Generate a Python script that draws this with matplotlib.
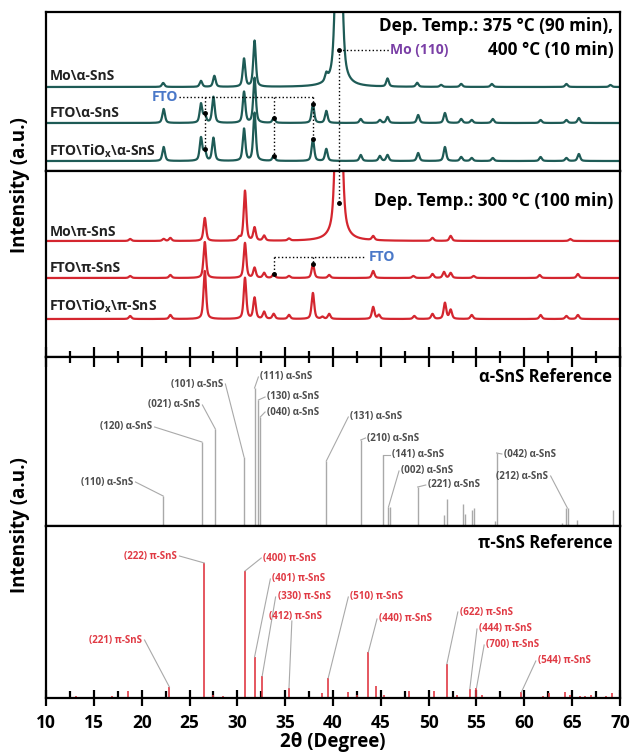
import numpy as np
import matplotlib
matplotlib.use('Agg')
import matplotlib.pyplot as plt

plt.rcParams['font.family'] = ['Open Sans', 'DejaVu Sans']
plt.rcParams['font.weight'] = 'bold'
plt.rcParams['axes.labelweight'] = 'bold'
plt.rcParams['mathtext.fontset'] = 'custom'
plt.rcParams['mathtext.bf'] = 'Open Sans:bold'
plt.rcParams['mathtext.rm'] = 'Open Sans:bold'

# ---- measured patterns (peak position 2theta, height in a.u. above baseline) ----
# alpha-SnS films (top panel)
mo_a_pos = [22.25, 26.2, 27.6, 30.7, 31.8, 39.3, 40.6, 45.7, 48.8, 51.3, 53.4, 56.6, 64.4, 69.0]
mo_a_h = [4, 6, 11, 28, 46, 7, 300, 8, 4, 2, 3, 3, 3, 2]
fto_a_pos = [22.3, 26.2, 26.6, 27.5, 30.7, 31.8, 33.8, 37.9, 39.3, 42.9, 44.9, 45.7, 48.9, 51.7,
             53.4, 54.5, 56.7, 61.7, 64.4, 65.7]
fto_a_h = [14, 19, 8, 26, 31, 45, 5, 19, 12, 4, 3, 6, 8, 10, 4, 3, 4, 3, 3, 5]
tio_a_pos = [22.3, 26.2, 26.6, 27.5, 30.7, 31.8, 33.8, 37.9, 39.3, 42.9, 44.9, 45.7, 48.9, 51.7,
             53.4, 54.5, 56.7, 61.7, 64.4, 65.7]
tio_a_h = [14, 23, 10, 23, 32, 48, 5, 22, 12, 6, 5, 6, 8, 14, 4, 3, 3, 4, 3, 7]
base_a = [84, 48, 10]

# pi-SnS films (middle panel)
mo_p_pos = [18.8, 22.3, 23.0, 26.6, 30.2, 30.8, 31.8, 32.8, 35.4, 40.6, 44.2, 50.4, 52.3, 64.8]
mo_p_h = [2, 2, 3, 23, 3, 50, 13, 5, 2, 300, 4, 3, 5, 2]
fto_p_pos = [18.8, 23.0, 26.6, 30.8, 31.8, 32.8, 33.8, 35.4, 37.9, 39.6, 44.2, 48.4, 50.4, 51.6,
             52.3, 54.7, 61.6, 65.6]
fto_p_h = [2, 3, 36, 35, 10, 5, 4, 2, 14, 3, 7, 2, 4, 6, 5, 2, 3, 4]
tio_p_pos = [18.8, 23.0, 26.6, 30.8, 31.8, 32.8, 33.8, 35.4, 37.9, 38.9, 39.6, 44.2, 44.8, 48.5,
             50.4, 51.7, 52.3, 54.5, 61.7, 64.4, 65.6]
tio_p_h = [3, 4, 48, 41, 21, 7, 5, 4, 26, 2, 5, 12, 4, 3, 5, 16, 9, 4, 4, 3, 4]
base_p = [116, 79, 38]

# alpha-SnS reference lines
ref_a_pos = [22.25, 26.3, 27.7, 30.7, 31.8, 32.2, 32.4, 39.3, 42.9, 45.2, 45.8, 46.0, 48.85,
             51.6, 51.9, 53.6, 53.8, 54.5, 54.7, 56.9, 57.1, 63.9, 64.4, 64.6, 65.5, 69.3]
ref_a_h = [30, 84, 97, 69, 138, 126, 109, 65, 86, 71, 19, 19, 39,
           11, 27, 22, 12, 16, 18, 5, 73, 3, 18, 18, 6, 16]
# (hkl) labels: text, peak, label x, label y
ref_a_lab = ['(110)', '(120)', '(021)', '(101)', '(111)', '(130)', '(040)', '(131)', '(210)',
             '(141)', '(002)', '(221)', '(042)', '(212)']
ref_a_lpk = [22.25, 26.3, 27.7, 30.7, 31.8, 32.2, 32.4, 39.3, 42.9, 45.2, 45.8, 48.85, 57.1, 64.5]
ref_a_lx = [19.1, 21.1, 26.1, 28.5, 32.4, 33.1, 33.1, 41.8, 43.6, 46.2, 47.1, 49.9, 57.85, 62.5]
ref_a_ly = [44, 99, 121, 142, 149, 129, 114, 109, 88, 71, 55, 41, 72, 50]

# pi-SnS reference lines
ref_p_pos = [13.1, 16.9, 18.6, 22.9, 26.55, 27.5, 28.5, 30.8, 31.8, 32.6, 35.4, 38.9, 39.5,
             41.6, 42.5, 43.7, 44.5, 45.3, 47.9, 50.6, 51.9, 53.0, 54.3, 55.0, 55.6, 59.7,
             61.9, 62.6, 64.3, 64.8, 65.8, 66.3, 67.0, 68.5, 69.2]
ref_p_h = [2, 2, 7, 11, 135, 3, 2, 127, 41, 22, 10, 5, 20,
           6, 3, 46, 12, 3, 7, 7, 34, 3, 9, 10, 3, 6,
           2, 5, 6, 3, 2, 2, 3, 2, 5]
ref_p_lab = ['(221)', '(222)', '(400)', '(401)', '(330)', '(412)', '(510)', '(440)', '(622)',
             '(444)', '(700)', '(544)']
ref_p_lpk = [22.9, 26.55, 30.8, 31.8, 32.6, 35.4, 39.5, 43.7, 51.9, 54.3, 55.0, 59.7]
ref_p_lx = [20.05, 23.7, 32.7, 33.65, 34.2, 33.35, 41.8, 44.8, 53.25, 55.25, 56.0, 61.4]
ref_p_ly = [58, 142, 140, 119, 101, 82, 101, 79, 86, 69, 53, 37]

teal = '#1e5b56'
red = '#d4262f'
tt = np.linspace(10, 70, 4000)


def profile(pos, hts):
    y = np.zeros_like(tt)
    for p, h in zip(pos, hts):
        w = 0.6 if h > 100 else 0.32
        d = (tt - p) / w
        y += h * (0.45 * np.exp(-4 * np.log(2) * d ** 2) + 0.55 / (1 + 4 * d ** 2))
    return y


def at(pos, hts, base, x):
    return base + np.interp(x, tt, profile(pos, hts))


fig = plt.figure(figsize=(6.32, 7.53), dpi=100)
L, W = 46 / 632, 574 / 632
ax1 = fig.add_axes([L, 1 - 171 / 753, W, 159 / 753])
ax2 = fig.add_axes([L, 1 - 357 / 753, W, 186 / 753], sharex=ax1)
ax3 = fig.add_axes([L, 1 - 526 / 753, W, 169 / 753], sharex=ax1)
ax4 = fig.add_axes([L, 1 - 698 / 753, W, 172 / 753], sharex=ax1)
ax1.set_ylim(0, 159)
ax2.set_ylim(0, 186)
ax3.set_ylim(0, 169)
ax4.set_ylim(0, 172)
ax1.set_xlim(10, 70)

for ax in (ax1, ax2, ax3, ax4):
    ax.set_yticks([])
    for s in ax.spines.values():
        s.set_linewidth(1.6)
    ax.tick_params(axis='x', which='both', bottom=False, top=False, labelbottom=False)
    ax.set_xticks(np.arange(10, 71, 5))
    ax.set_xticks(np.arange(12.5, 70, 5), minor=True)

ax2.tick_params(axis='x', which='both', bottom=True, direction='in', width=1.6)
ax2.tick_params(axis='x', which='major', length=7)
ax2.tick_params(axis='x', which='minor', length=4)
ax3.tick_params(axis='x', which='both', top=True, direction='in', width=1.6)
ax3.tick_params(axis='x', which='major', length=7)
ax3.tick_params(axis='x', which='minor', length=4)
ax4.tick_params(axis='x', which='major', bottom=True, direction='inout', length=11, width=1.6,
                labelbottom=True, labelsize=12.5, pad=6)
ax4.tick_params(axis='x', which='minor', bottom=True, direction='in', length=5, width=1.6)
for lbl in ax4.get_xticklabels():
    lbl.set_fontweight('bold')

# ---- alpha-SnS films ----
a_curves = [(mo_a_pos, mo_a_h), (fto_a_pos, fto_a_h), (tio_a_pos, tio_a_h)]
for (pos, hts), b in zip(a_curves, base_a):
    ax1.plot(tt, b + profile(pos, hts), color=teal, lw=1.6)
a_names = ['Mo\\α-SnS', 'FTO\\α-SnS', r'FTO\TiO$_\mathbf{x}$\α-SnS']
for name, yy in zip(a_names, [95, 58, 20]):
    ax1.text(10.35, yy, name, fontsize=10, va='center', ha='left', color='#222222')

ax1.text(69.3, 145, 'Dep. Temp.: 375 °C (90 min),', fontsize=12.3, ha='right', va='center')
ax1.text(69.3, 121, '400 °C (10 min)', fontsize=12.3, ha='right', va='center')
ax1.text(46.0, 121, 'Mo (110)', fontsize=10, color='#7a3fa6', ha='left', va='center')
ax1.plot([40.6, 45.9], [121, 121], 'k:', lw=1)
ax1.plot([40.6, 40.6], [121, 0], 'k:', lw=1)
ax1.plot([40.6], [121], 'ko', ms=2.5)

ax1.text(23.8, 74, 'FTO', fontsize=10, color='#4a78c8', ha='right', va='center')
ax1.plot([23.9, 37.9], [74, 74], 'k:', lw=1)
for xf in [26.6, 33.8, 37.9]:
    y_bot = at(tio_a_pos, tio_a_h, base_a[2], xf)
    y_mid = at(fto_a_pos, fto_a_h, base_a[1], xf)
    ax1.plot([xf, xf], [74, y_bot], 'k:', lw=1)
    ax1.plot([xf, xf], [y_mid, y_bot], 'ko', ms=2.5)

# ---- pi-SnS films ----
p_curves = [(mo_p_pos, mo_p_h), (fto_p_pos, fto_p_h), (tio_p_pos, tio_p_h)]
for (pos, hts), b in zip(p_curves, base_p):
    ax2.plot(tt, b + profile(pos, hts), color=red, lw=1.6)
p_names = ['Mo\\π-SnS', 'FTO\\π-SnS', r'FTO\TiO$_\mathbf{x}$\π-SnS']
for name, yy in zip(p_names, [125, 89, 51]):
    ax2.text(10.35, yy, name, fontsize=10, va='center', ha='left', color='#222222')

ax2.text(69.3, 156, 'Dep. Temp.: 300 °C (100 min)', fontsize=12.3, ha='right', va='center')
ax2.plot([40.6, 40.6], [186, 154], 'k:', lw=1)
ax2.plot([40.6], [154], 'ko', ms=2.5)
ax2.text(43.7, 100, 'FTO', fontsize=10, color='#4a78c8', ha='left', va='center')
ax2.plot([33.8, 43.3], [100, 100], 'k:', lw=1)
for xf in [33.8, 37.9]:
    y_c = at(fto_p_pos, fto_p_h, base_p[1], xf)
    ax2.plot([xf, xf], [100, y_c], 'k:', lw=1)
    ax2.plot([xf], [y_c], 'ko', ms=2.5)

# ---- alpha-SnS reference ----
ax3.vlines(ref_a_pos, 0, ref_a_h, color='#a9a9a9', lw=1)
for lab, pk, lx, ly in zip(ref_a_lab, ref_a_lpk, ref_a_lx, ref_a_ly):
    ph = ref_a_h[ref_a_pos.index(pk)] if pk in ref_a_pos else 18
    if lx < pk:
        ax3.text(lx, ly, lab + ' α-SnS', fontsize=7, color='#4d4d4d', ha='right', va='center')
        ax3.plot([lx + 0.25, pk], [ly, ph], color='#a9a9a9', lw=0.8)
    elif lab == '(212)':
        ax3.text(lx, ly, lab + ' α-SnS', fontsize=7, color='#4d4d4d', ha='left', va='center')
        ax3.plot([64.9, pk], [ly - 5, ph], color='#a9a9a9', lw=0.8)
    else:
        ax3.text(lx, ly, lab + ' α-SnS', fontsize=7, color='#4d4d4d', ha='left', va='center')
        ax3.plot([lx - 0.2, pk], [ly, ph], color='#a9a9a9', lw=0.8)
ax3.text(69.2, 149, 'α-SnS Reference', fontsize=12, ha='right', va='center')

# ---- pi-SnS reference ----
ax4.vlines(ref_p_pos, 0, ref_p_h, color='#e03a44', lw=1.2)
for lab, pk, lx, ly in zip(ref_p_lab, ref_p_lpk, ref_p_lx, ref_p_ly):
    ph = ref_p_h[ref_p_pos.index(pk)]
    if lx < pk and lab != '(412)':
        ax4.text(lx, ly, lab + ' π-SnS', fontsize=7, color='#e03a44', ha='right', va='center')
        ax4.plot([lx + 0.25, pk], [ly, ph], color='#a9a9a9', lw=0.8)
    elif lab == '(412)':
        ax4.text(lx, ly, lab + ' π-SnS', fontsize=7, color='#e03a44', ha='left', va='center')
        ax4.plot([35.7, pk], [ly - 5, ph], color='#a9a9a9', lw=0.8)
    else:
        ax4.text(lx, ly, lab + ' π-SnS', fontsize=7, color='#e03a44', ha='left', va='center')
        ax4.plot([lx - 0.2, pk], [ly, ph], color='#a9a9a9', lw=0.8)
ax4.text(69.2, 155, 'π-SnS Reference', fontsize=12, ha='right', va='center')

ax4.set_xlabel('2θ (Degree)', fontsize=13.5, fontweight='bold', labelpad=0)
fig.text(0.032, 1 - 185 / 753, 'Intensity (a.u.)', rotation=90, fontsize=13.5, ha='center', va='center')
fig.text(0.032, 1 - 525 / 753, 'Intensity (a.u.)', rotation=90, fontsize=13.5, ha='center', va='center')

fig.savefig('out.png', dpi=100)
